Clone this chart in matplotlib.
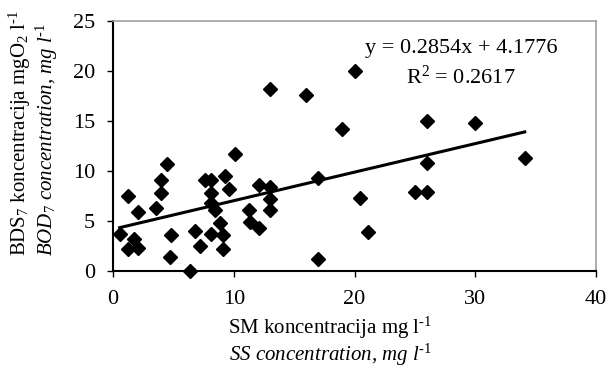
import numpy as np
import matplotlib
matplotlib.use('Agg')
import matplotlib.pyplot as plt

plt.rcParams['font.family'] = 'Liberation Serif'
plt.rcParams['mathtext.fontset'] = 'custom'
plt.rcParams['mathtext.rm'] = 'Liberation Serif'
plt.rcParams['mathtext.it'] = 'Liberation Serif:italic'

# SS concentration (mg/l) vs BOD7 concentration (mg O2/l)
ss = [0.55, 1.25, 1.25, 1.7, 2.07, 2.07, 3.54, 4.0, 4.0, 4.47, 4.84, 4.7,
      6.35, 6.77, 7.18, 7.6, 8.15, 8.15, 8.15, 8.15, 8.43, 8.84, 9.1, 9.1,
      9.25, 9.6, 10.08, 11.27, 11.38, 12.07, 12.07, 13.04, 13.04, 13.04, 13.04,
      16.0, 16.98, 16.98, 18.95, 20.08, 20.44, 21.08, 25.05, 26.0, 26.0, 26.0,
      30.02, 34.1]
bod = [3.67, 7.5, 2.17, 3.17, 2.33, 5.9, 6.33, 9.1, 7.77, 10.7, 3.57, 1.37,
       0.0, 4.0, 2.5, 9.1, 9.1, 7.83, 3.67, 6.77, 6.1, 4.77, 3.57, 2.17,
       9.5, 8.23, 11.67, 6.1, 4.93, 4.27, 8.57, 8.37, 7.17, 6.1, 18.17,
       17.6, 9.33, 1.17, 14.23, 20.0, 7.27, 3.93, 7.87, 7.87, 10.83, 15.03,
       14.83, 11.27]

slope = 0.2854
intercept = 4.1776
r2 = 0.2617

fig = plt.figure(figsize=(6.08, 3.79), dpi=100)
ax = fig.add_axes([113/608, 1 - 271/379, 483/608, 250/379])

ax.plot(ss, bod, 'D', color='black', markersize=7.5, zorder=3, clip_on=False)
xl = np.array([min(ss), max(ss)])
ax.plot(xl, slope*xl + intercept, color='black', linewidth=2.2, zorder=2)

ax.set_xlim(0, 40)
ax.set_ylim(0, 25)
ax.set_xticks([0, 10, 20, 30, 40])
ax.set_yticks([0, 5, 10, 15, 20, 25])
ax.tick_params(labelsize=16, direction='out', length=4, width=1, color='black')
ax.tick_params(axis='y', pad=9)
ax.tick_params(axis='x', pad=10)
for s in ['top', 'right']:
    ax.spines[s].set_color('#a0a0a0')
    ax.spines[s].set_linewidth(1.2)
for s in ['left', 'bottom']:
    ax.spines[s].set_linewidth(1.5)

ax.text(0.72, 0.89, f'y = {slope}x + {intercept}', transform=ax.transAxes,
        ha='center', va='center', fontsize=16)
ax.text(0.72, 0.775, f'R$^2$ = {r2}', transform=ax.transAxes,
        ha='center', va='center', fontsize=16)

fig.text(330/608, 1 - 328/379, r'SM koncentracija mg l$^{\text{-1}}$',
         ha='center', va='center', fontsize=15)
fig.text(330/608, 1 - 355/379, r'SS concentration, mg l$^{\text{-}\mathit{1}}$',
         ha='center', va='center', fontsize=15, style='italic')
fig.text(20/608, 1 - 133/379, r'BDS$_7$ koncentracija mgO$_2$ l$^{\text{-1}}$',
         ha='center', va='center', fontsize=15, rotation=90)
fig.text(47/608, 1 - 140/379, r'BOD$_{\mathit{7}}$ concentration, mg l$^{\text{-}\mathit{1}}$',
         ha='center', va='center', fontsize=15, rotation=90, style='italic')

fig.savefig('out.png', dpi=100)
